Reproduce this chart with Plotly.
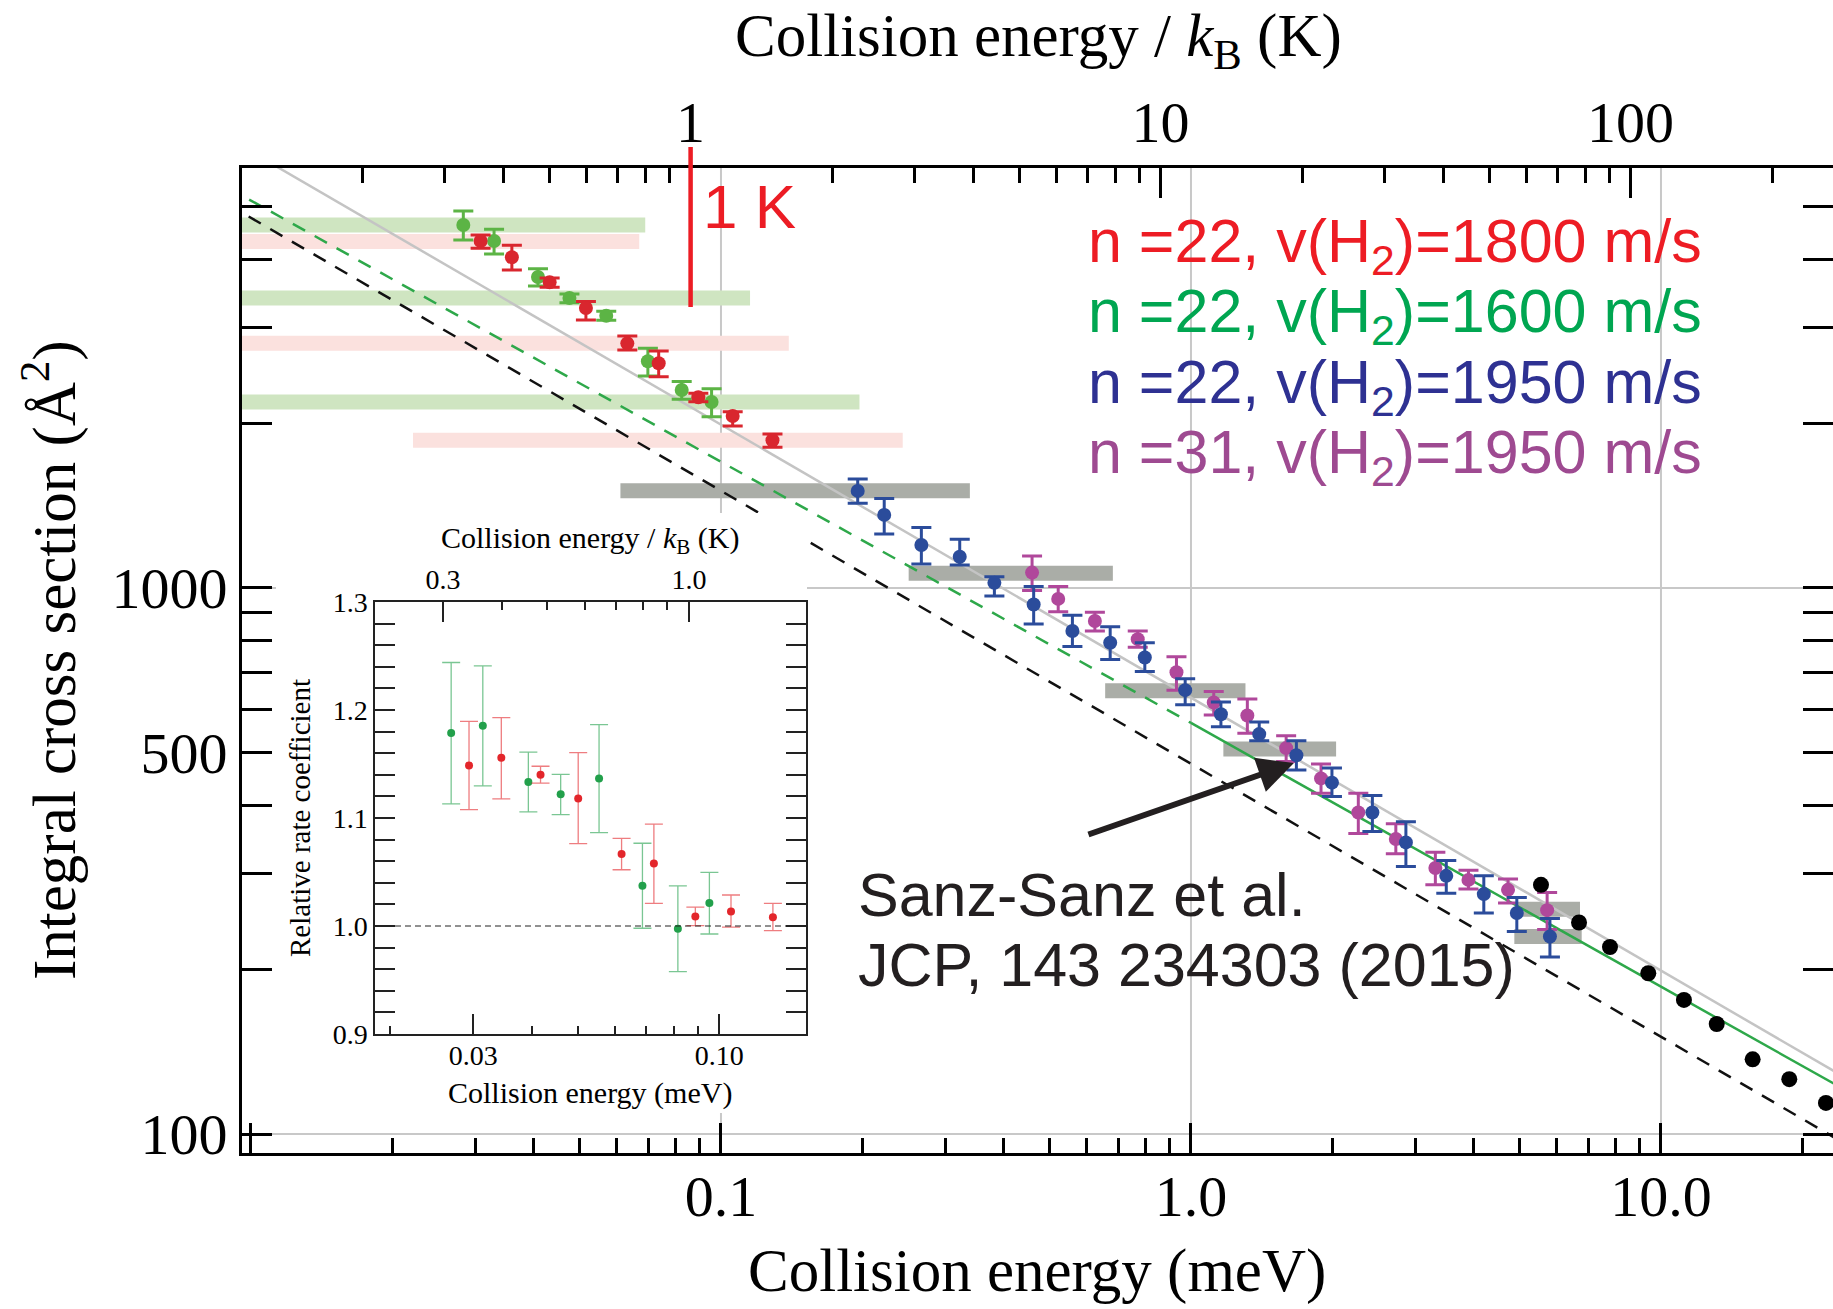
import numpy as np
import plotly.graph_objects as go

W, H = 1833, 1309
K_TO_MEV = 0.08617  # 1 K expressed in meV
ONE_K = 1.0

# ---------------- main panel data (E in meV, sigma in A^2) ----------------
red_E = [0.0308, 0.0359, 0.0432, 0.0516, 0.0632, 0.0737, 0.0895, 0.1059, 0.1287]
red_sig = [4321, 4034, 3629, 3256, 2806, 2580, 2235, 2065, 1864]
red_hi = [4431, 4243, 3696, 3346, 2894, 2717, 2273, 2103, 1914]
red_lo = [4190, 3823, 3554, 3096, 2729, 2438, 2194, 1980, 1810]

green_E = [0.0283, 0.0329, 0.0408, 0.0476, 0.0570, 0.0699, 0.0825, 0.0955]
green_sig = [4623, 4321, 3712, 3397, 3153, 2602, 2305, 2191]
green_hi = [4903, 4539, 3844, 3455, 3211, 2748, 2390, 2317]
green_lo = [4340, 4090, 3574, 3331, 3092, 2445, 2216, 2059]

blue_E = [0.1954, 0.2225, 0.2669, 0.3221, 0.3817, 0.4627, 0.5594, 0.6731, 0.7976, 0.972,
          1.158, 1.397, 1.676, 1.995, 2.432, 2.866, 3.493, 4.198, 4.935, 5.804]
blue_sig = [1506, 1361, 1199, 1141, 1022, 933, 834, 794, 746, 650,
            587, 540, 494, 440, 388, 342, 297, 275, 254, 230]
blue_hi = [1583, 1459, 1291, 1228, 1049, 1006, 891, 849, 794, 682,
           618, 568, 525, 468, 417, 373, 317, 297, 271, 248]
blue_lo = [1429, 1256, 1107, 1102, 967, 859, 781, 740, 703, 611,
           557, 525, 464, 415, 358, 309, 276, 254, 235, 211]

mag_E = [0.4591, 0.5218, 0.6245, 0.7704, 0.9314, 1.118, 1.318, 1.594, 1.891, 2.270,
         2.728, 3.311, 3.894, 4.727, 5.725]
mag_sig = [1067, 955, 870, 806, 701, 617, 584, 509, 448, 388, 347, 307, 292, 280, 257]
mag_hi = [1144, 1006, 903, 834, 748, 646, 626, 536, 476, 421, 370, 328, 304, 293, 277]
mag_lo = [989, 905, 834, 779, 650, 585, 542, 481, 421, 355, 326, 286, 281, 265, 237]

black_E = [5.555, 6.693, 7.789, 9.397, 11.19, 13.14, 15.67, 18.75, 22.44]
black_sig = [286, 244, 220, 197, 176, 159, 137, 126, 114]

# energy-spread bands
green_band_lo = [0.004, 0.004, 0.004]
green_band_hi = [0.0690, 0.1153, 0.1971]
green_band_sig = [4623, 3397, 2191]
red_band_lo = [0.004, 0.004, 0.02212]
red_band_hi = [0.0670, 0.1394, 0.2436]
red_band_sig = [4310, 2806, 1864]
gray_band_lo = [0.0611, 0.2508, 0.6568, 1.172, 4.96, 4.875]
gray_band_hi = [0.3385, 0.682, 1.306, 2.036, 6.725, 6.781]
gray_band_sig = [1507, 1064, 648, 507, 258, 230]

# theory curves
langevin_E = [0.008, 30.0]
langevin_sig = [7040, 115]
dashed_black_E = [0.008, 30.0]
dashed_black_sig = [5326, 87.0]
green_theory_dashed_E = [0.008, 1.0]
green_theory_dashed_sig = [5700, 566]
green_theory_solid_E = [1.0, 30.0]
green_theory_solid_sig = [566, 109.5]

arrow_E, arrow_sig = 1.656, 478

# axis ticks
x_major = [0.01, 0.1, 1, 10]
x_major_text = ["", "0.1", "1.0", "10.0"]
x_minor = [0.02, 0.03, 0.04, 0.05, 0.06, 0.07, 0.08, 0.09,
           0.2, 0.3, 0.4, 0.5, 0.6, 0.7, 0.8, 0.9,
           2, 3, 4, 5, 6, 7, 8, 9, 20]
x_grid = [0.1, 1, 10]
k_major = [1, 10, 100]
k_major_text = ["1", "10", "100"]
k_minor = [0.2, 0.3, 0.4, 0.5, 0.6, 0.7, 0.8, 0.9, 2, 3, 4, 5, 6, 7, 8, 9,
           20, 30, 40, 50, 60, 70, 80, 90, 200]
y_major = [100, 500, 1000]
y_major_text = ["100", "500", "1000"]
y_minor = [200, 300, 400, 600, 700, 800, 900, 2000, 3000, 4000, 5000]
y_grid = [100, 1000]

# ---------------- inset data ----------------
inset_green_E = [0.02692, 0.03143, 0.03928, 0.04601, 0.05552, 0.06865, 0.08165, 0.09527]
inset_green_k = [1.1787, 1.1855, 1.1333, 1.1220, 1.1365, 1.0372, 0.9975, 1.0213]
inset_green_hi = [1.244, 1.2408, 1.161, 1.1404, 1.1865, 1.0766, 1.0372, 1.0496]
inset_green_lo = [1.113, 1.1298, 1.1057, 1.1032, 1.0865, 0.9979, 0.9578, 0.9926]
inset_red_E = [0.02938, 0.03441, 0.04169, 0.05013, 0.06199, 0.07261, 0.08894, 0.1059, 0.1300]
inset_red_k = [1.1486, 1.1557, 1.1400, 1.1180, 1.0667, 1.0578, 1.0089, 1.0135, 1.0082]
inset_red_hi = [1.1894, 1.1929, 1.1479, 1.1606, 1.0812, 1.0943, 1.0174, 1.0287, 1.0209]
inset_red_lo = [1.1078, 1.1177, 1.1323, 1.0762, 1.0521, 1.0209, 1.0004, 0.9989, 0.9957]
inset_ref = 1.0
inset_x_major = [0.03, 0.1]
inset_x_major_text = ["0.03", "0.10"]
inset_x_minor = [0.02, 0.04, 0.05, 0.06, 0.07, 0.08, 0.09]
inset_k_major = [0.3, 1.0]
inset_k_major_text = ["0.3", "1.0"]
inset_k_minor = [0.4, 0.5, 0.6, 0.7, 0.8, 0.9]
inset_y_major = [0.9, 1.0, 1.1, 1.2, 1.3]

# ---------------- geometry (pixels) ----------------
def px(x):
    return x / W

def py(y):
    return (H - y) / H

main_left, main_right, main_top, main_bot = 242, 1833, 168, 1153
x_range = [-2.0191, 1.366]
y_range = [1.9652, 3.7692]
k_range = [x_range[0] - np.log10(K_TO_MEV), x_range[1] - np.log10(K_TO_MEV)]

ins_left, ins_right, ins_top, ins_bot = 375, 806, 602, 1034
inset_x_range = [-1.7318, -0.8157]
inset_k_range = [inset_x_range[0] - np.log10(K_TO_MEV), inset_x_range[1] - np.log10(K_TO_MEV)]

COL_RED = "#d9262e"
COL_GREEN = "#5cb445"
COL_BLUE = "#2b4c9b"
COL_MAG = "#b0489b"
SERIF = "Liberation Serif"
SANS = "Liberation Sans"

fig = go.Figure()


def band_xy(lo, hi, sig):
    xs, ys = [], []
    for a, b, s in zip(lo, hi, sig):
        xs += [a, b, None]
        ys += [s, s, None]
    return xs, ys


for lo, hi, sig, col in [(green_band_lo, green_band_hi, green_band_sig, "#cfe5c1"),
                         (red_band_lo, red_band_hi, red_band_sig, "#fbe1de"),
                         (gray_band_lo, gray_band_hi, gray_band_sig, "#aaada7")]:
    bx, by = band_xy(lo, hi, sig)
    fig.add_trace(go.Scatter(x=bx, y=by, mode="lines", line=dict(color=col, width=15),
                             hoverinfo="skip", showlegend=False, xaxis="x", yaxis="y"))

# theory lines
fig.add_trace(go.Scatter(x=langevin_E, y=langevin_sig, mode="lines",
                         line=dict(color="#c4c4c4", width=2.5), showlegend=False))
fig.add_trace(go.Scatter(x=dashed_black_E, y=dashed_black_sig, mode="lines",
                         line=dict(color="#111111", width=2.5, dash="14px,11px"), showlegend=False))
fig.add_trace(go.Scatter(x=green_theory_dashed_E, y=green_theory_dashed_sig, mode="lines",
                         line=dict(color="#2ea84a", width=2.5, dash="14px,11px"), showlegend=False))
fig.add_trace(go.Scatter(x=green_theory_solid_E, y=green_theory_solid_sig, mode="lines",
                         line=dict(color="#2ea84a", width=2.5), showlegend=False))


def err_trace(E, s, hi, lo, col, xa="x", ya="y", size=14, thick=3, width=10):
    return go.Scatter(
        x=E, y=s, mode="markers", marker=dict(color=col, size=size),
        error_y=dict(type="data", symmetric=False,
                     array=[h - v for h, v in zip(hi, s)],
                     arrayminus=[v - l for v, l in zip(s, lo)],
                     color=col, thickness=thick, width=width),
        showlegend=False, xaxis=xa, yaxis=ya)


fig.add_trace(err_trace(green_E, green_sig, green_hi, green_lo, COL_GREEN))
fig.add_trace(err_trace(red_E, red_sig, red_hi, red_lo, COL_RED))
fig.add_trace(err_trace(mag_E, mag_sig, mag_hi, mag_lo, COL_MAG))
fig.add_trace(err_trace(blue_E, blue_sig, blue_hi, blue_lo, COL_BLUE))
fig.add_trace(go.Scatter(x=black_E, y=black_sig, mode="markers",
                         marker=dict(color="black", size=16), showlegend=False))

# top (Kelvin) axis carrier
fig.add_trace(go.Scatter(x=[None], y=[None], xaxis="x2", yaxis="y", showlegend=False))

# white cover behind the inset (L-shaped)
fig.add_trace(go.Scatter(x=[0, 1, 1, 0.8983, 0.8983, 0, 0], y=[0, 0, 0.8633, 0.8633, 1, 1, 0],
                         fill="toself", fillcolor="white", mode="lines",
                         line=dict(width=0, color="white"), hoverinfo="skip",
                         showlegend=False, xaxis="x3", yaxis="y3"))

# inset
fig.add_trace(err_trace(inset_green_E, inset_green_k, inset_green_hi, inset_green_lo,
                        "#22a04b", "x4", "y4", size=8, thick=1.3, width=9))
fig.add_trace(err_trace(inset_red_E, inset_red_k, inset_red_hi, inset_red_lo,
                        "#e3262b", "x4", "y4", size=8, thick=1.3, width=9))
fig.data[-2].error_y.color = "rgba(34,160,75,0.6)"
fig.data[-1].error_y.color = "rgba(227,38,43,0.6)"
fig.add_trace(go.Scatter(x=[None], y=[None], xaxis="x5", yaxis="y4", showlegend=False))

main_tick_font = dict(family=SERIF, size=58, color="black")
ins_tick_font = dict(family=SERIF, size=28, color="black")

fig.update_layout(
    width=W, height=H, margin=dict(l=0, r=0, t=0, b=0, autoexpand=False),
    paper_bgcolor="white", plot_bgcolor="white", showlegend=False, hovermode=False,
    xaxis=dict(type="log", domain=[px(main_left), px(main_right)], range=x_range, anchor="y",
               showline=True, linecolor="black", linewidth=3, mirror=True, automargin=False,
               ticks="inside", ticklen=30, tickwidth=3, tickcolor="black",
               tickmode="array", tickvals=x_major, ticktext=x_major_text,
               ticklabelstandoff=-10,
               minor=dict(tickmode="array", tickvals=x_minor, ticks="inside", ticklen=15,
                          tickwidth=3, tickcolor="black", showgrid=False),
               showgrid=False, zeroline=False, tickfont=main_tick_font),
    xaxis2=dict(type="log", overlaying="x", side="top", anchor="y", range=k_range,
                showline=True, linecolor="black", linewidth=3, automargin=False,
                ticks="inside", ticklen=30, tickwidth=3, tickcolor="black",
                tickmode="array", tickvals=k_major, ticktext=k_major_text,
                minor=dict(tickmode="array", tickvals=k_minor, ticks="inside", ticklen=15,
                           tickwidth=3, tickcolor="black", showgrid=False),
                showgrid=False, zeroline=False, tickfont=main_tick_font),
    yaxis=dict(type="log", domain=[py(main_bot), py(main_top)], range=y_range, anchor="x",
               showline=True, linecolor="black", linewidth=3, mirror="allticks", automargin=False,
               ticks="inside", ticklen=30, tickwidth=3, tickcolor="black",
               tickmode="array", tickvals=y_major, ticktext=y_major_text,
               minor=dict(tickmode="array", tickvals=y_minor, ticks="inside", ticklen=15,
                          tickwidth=3, tickcolor="black", showgrid=False),
               showgrid=False, zeroline=False, tickfont=main_tick_font),
    xaxis3=dict(domain=[px(276), px(807)], range=[0, 1], visible=False, anchor="y3"),
    yaxis3=dict(domain=[py(1113), py(513)], range=[0, 1], visible=False, anchor="x3"),
    xaxis4=dict(type="log", domain=[px(ins_left), px(ins_right)], range=inset_x_range, anchor="y4",
                showline=True, linecolor="#222222", linewidth=1.5, mirror=True, automargin=False,
                ticks="inside", ticklen=20, tickwidth=1.5, tickcolor="#222222",
                tickmode="array", tickvals=inset_x_major, ticktext=inset_x_major_text,
                ticklabelstandoff=-4,
                minor=dict(tickmode="array", tickvals=inset_x_minor, ticks="inside", ticklen=8,
                           tickwidth=1.5, tickcolor="#222222", showgrid=False),
                showgrid=False, zeroline=False, tickfont=ins_tick_font),
    xaxis5=dict(type="log", overlaying="x4", side="top", anchor="y4", range=inset_k_range,
                showline=True, linecolor="#222222", linewidth=1.5, automargin=False,
                ticks="inside", ticklen=20, tickwidth=1.5, tickcolor="#222222",
                tickmode="array", tickvals=inset_k_major, ticktext=inset_k_major_text,
                minor=dict(tickmode="array", tickvals=inset_k_minor, ticks="inside", ticklen=8,
                           tickwidth=1.5, tickcolor="#222222", showgrid=False),
                showgrid=False, zeroline=False, tickfont=ins_tick_font),
    yaxis4=dict(domain=[py(ins_bot), py(ins_top)], range=[0.9, 1.3], anchor="x4",
                showline=True, linecolor="#222222", linewidth=1.5, mirror="allticks", automargin=False,
                ticks="inside", ticklen=20, tickwidth=1.5, tickcolor="#222222",
                tickmode="array", tickvals=inset_y_major,
                ticktext=[f"{v:.1f}" for v in inset_y_major],
                minor=dict(dtick=0.02, ticks="inside", ticklen=8, tickwidth=1.5,
                           tickcolor="#222222", showgrid=False),
                showgrid=False, zeroline=False, tickfont=ins_tick_font),
)

shapes = []
for v in x_grid:
    shapes.append(dict(type="line", xref="x", yref="y domain", x0=v, x1=v, y0=0, y1=1,
                       line=dict(color="#c8c8c8", width=2), layer="below"))
for v in y_grid:
    shapes.append(dict(type="line", xref="x domain", yref="y", x0=0, x1=1, y0=v, y1=v,
                       line=dict(color="#c8c8c8", width=2), layer="below"))
# 1 K marker line
shapes.append(dict(type="line", xref="x2", yref="paper", x0=ONE_K, x1=ONE_K,
                   y0=py(307), y1=py(147), line=dict(color="#ec1c24", width=4.5), layer="above"))
# inset reference line
shapes.append(dict(type="line", xref="x4 domain", yref="y4", x0=0, x1=1, y0=inset_ref, y1=inset_ref,
                   line=dict(color="#222222", width=1, dash="6px,4px"), layer="above"))
fig.update_layout(shapes=shapes)

ann = []


def text(t, x, y, size, family, color="black", xanchor="center", angle=0):
    ann.append(dict(text=t, x=px(x), y=py(y), xref="paper", yref="paper", showarrow=False,
                    xanchor=xanchor, yanchor="middle", textangle=angle,
                    font=dict(family=family, size=size, color=color)))


text("Collision energy / <i>k</i><sub>B</sub> (K)", 1038, 40, 61, SERIF)
text("Collision energy (meV)", 1037, 1271, 61, SERIF)
text("Integral cross section (Å<sup>2</sup>)", 50, 660, 61, SERIF, angle=-90)
text("1 K", 701, 206, 62, SANS, color="#ec1c24", xanchor="left")
legend_lines = [("22", "1800", "#ed1c24"), ("22", "1600", "#00a651"),
                ("22", "1950", "#2e3192"), ("31", "1950", "#9e4a91")]
for i, (n, v, c) in enumerate(legend_lines):
    text(f"n ={n}, v(H<sub>2</sub>)={v} m/s", 1086, 246 + 70 * i, 61, SANS, color=c, xanchor="left")
text("Sanz-Sanz et al.", 856, 895, 61, SANS, color="#231f20", xanchor="left")
text("JCP, 143 234303 (2015)", 856, 965, 61, SANS, color="#231f20", xanchor="left")
# inset titles
text("Collision energy / <i>k</i><sub>B</sub> (K)", 590, 540, 30, SERIF)
text("Collision energy (meV)", 590, 1093, 30, SERIF)
text("Relative rate coefficient", 300, 818, 29, SERIF, angle=-90)

ann.append(dict(x=np.log10(arrow_E), y=np.log10(arrow_sig), xref="x", yref="y",
                ax=-207, ay=72, showarrow=True, arrowhead=2, arrowsize=1.2,
                arrowwidth=6, arrowcolor="#231f20", text=""))
fig.update_layout(annotations=ann)

fig.write_html("out.html")
